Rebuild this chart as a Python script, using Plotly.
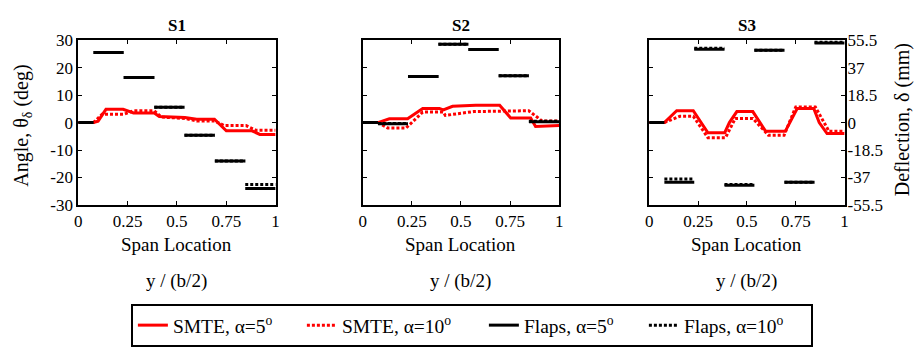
import plotly.graph_objects as go

# ---------------- data ----------------
span_ticks = [0, 0.25, 0.5, 0.75, 1]
span_tick_labels = ["0", "0.25", "0.5", "0.75", "1"]
angle_ticks = [-30, -20, -10, 0, 10, 20, 30]
angle_tick_labels = ["-30", "-20", "-10", "0", "10", "20", "30"]
defl_ticks = [-55.5, -37, -18.5, 0, 18.5, 37, 55.5]
defl_tick_labels = ["-55.5", "-37", "-18.5", "0", "18.5", "37", "55.5"]

# flap segment edges (span location)
flap_edges = [0, 0.077, 0.23, 0.385, 0.538, 0.692, 0.846, 1.0]

# flap angles per segment (deg)
s1_flaps_a5 = [0, 25.5, 16.4, 5.6, -4.6, -14.0, -24.0]
s1_flaps_a10 = [0, 25.5, 16.4, 5.6, -4.6, -14.0, -22.5]
s2_flaps_a5 = [0, -0.4, 16.8, 28.5, 26.6, 17.0, 0.3]
s2_flaps_a10 = [0, -0.3, 16.8, 28.5, 26.6, 17.0, 0.5]
s3_flaps_a5 = [0, -21.7, 26.7, -22.8, 26.3, -21.7, 28.9]
s3_flaps_a10 = [0, -20.5, 27.0, -22.5, 26.3, -21.7, 29.2]

# SMTE spanwise angle (deg)
s1_smte_a5_x = [0, 0.077, 0.10, 0.14, 0.227, 0.28, 0.385, 0.41, 0.54, 0.60, 0.69, 0.75, 0.88, 0.92, 1.0]
s1_smte_a5_y = [0, 0, 0.5, 4.8, 4.8, 3.5, 3.5, 2.2, 1.8, 1.2, 1.2, -3.0, -3.0, -4.3, -4.3]
s1_smte_a10_x = [0, 0.077, 0.12, 0.23, 0.28, 0.385, 0.42, 0.54, 0.60, 0.69, 0.74, 0.85, 0.90, 1.0]
s1_smte_a10_y = [0, 0, 3.0, 3.0, 4.3, 4.3, 2.0, 1.5, 0.6, 0.6, -1.1, -1.1, -2.8, -2.8]

s2_smte_a5_x = [0, 0.077, 0.135, 0.228, 0.305, 0.39, 0.41, 0.457, 0.575, 0.697, 0.753, 0.855, 0.88, 1.0]
s2_smte_a5_y = [0, 0, 1.4, 1.4, 5.1, 5.1, 4.6, 5.9, 6.3, 6.3, 1.7, 1.7, -1.4, -1.1]
s2_smte_a10_x = [0, 0.077, 0.127, 0.22, 0.305, 0.41, 0.42, 0.47, 0.565, 0.845, 0.913, 1.0]
s2_smte_a10_y = [0, 0, -2.0, -2.0, 3.8, 3.8, 2.6, 3.1, 4.0, 4.3, 0.6, 0.6]

s3_smte_a5_x = [0, 0.077, 0.14, 0.225, 0.30, 0.386, 0.41, 0.448, 0.53, 0.596, 0.696, 0.757, 0.842, 0.87, 0.91, 1.0]
s3_smte_a5_y = [0, 0, 4.3, 4.3, -3.7, -3.7, 0.0, 4.0, 4.0, -3.2, -3.2, 5.1, 5.1, 0.0, -4.0, -4.0]
s3_smte_a10_x = [0, 0.077, 0.157, 0.225, 0.30, 0.39, 0.44, 0.53, 0.61, 0.69, 0.75, 0.85, 0.92, 1.0]
s3_smte_a10_y = [0, 0, 2.3, 2.3, -5.5, -5.5, 1.5, 1.5, -4.6, -4.6, 5.7, 5.7, -3.2, -3.2]

panels = [
    ("S1", s1_smte_a5_x, s1_smte_a5_y, s1_smte_a10_x, s1_smte_a10_y, s1_flaps_a5, s1_flaps_a10),
    ("S2", s2_smte_a5_x, s2_smte_a5_y, s2_smte_a10_x, s2_smte_a10_y, s2_flaps_a5, s2_flaps_a10),
    ("S3", s3_smte_a5_x, s3_smte_a5_y, s3_smte_a10_x, s3_smte_a10_y, s3_flaps_a5, s3_flaps_a10),
]

legend_names = ["SMTE, α=5<sup>o</sup>", "SMTE, α=10<sup>o</sup>",
                "Flaps, α=5<sup>o</sup>", "Flaps, α=10<sup>o</sup>"]

# ---------------- figure ----------------
W, H = 919, 347
SERIF = "Liberation Serif"
RED = "#ff0000"

def seg_xy(edges, vals):
    xs, ys = [], []
    for i, v in enumerate(vals):
        xs += [edges[i], edges[i + 1], None]
        ys += [v, v, None]
    return xs, ys

fig = go.Figure()
dom_x = [(75 / W, 274 / W), (362 / W, 560 / W), (651 / W, 848 / W)]
dom_y = (1 - 208 / H, 1 - 33 / H)
legend_widths = [124, 137, 115, 122]

axis_common = dict(showline=True, linewidth=2, linecolor="black", mirror="ticks",
                   ticks="inside", ticklen=4, tickwidth=1, tickcolor="black",
                   showgrid=False, zeroline=False)

for p, (title, ax5, ay5, ax10, ay10, f5, f10) in enumerate(panels):
    xa = "x" if p == 0 else f"x{p + 1}"
    ya = "y" if p == 0 else f"y{p + 1}"
    show = p == 0
    fig.add_trace(go.Scatter(x=ax5, y=ay5, mode="lines", xaxis=xa, yaxis=ya,
                             line=dict(color=RED, width=3), name=legend_names[0],
                             legendgroup="a", showlegend=show, legendwidth=legend_widths[0]))
    fig.add_trace(go.Scatter(x=ax10, y=ay10, mode="lines", xaxis=xa, yaxis=ya,
                             line=dict(color=RED, width=3, dash="3px,2px"), name=legend_names[1],
                             legendgroup="b", showlegend=show, legendwidth=legend_widths[1]))
    fx, fy = seg_xy(flap_edges, f5)
    fig.add_trace(go.Scatter(x=fx, y=fy, mode="lines", xaxis=xa, yaxis=ya,
                             line=dict(color="black", width=3), name=legend_names[2],
                             legendgroup="c", showlegend=show, legendwidth=legend_widths[2]))
    fx, fy = seg_xy(flap_edges, f10)
    fig.add_trace(go.Scatter(x=fx, y=fy, mode="lines", xaxis=xa, yaxis=ya,
                             line=dict(color="black", width=3, dash="3px,2px"), name=legend_names[3],
                             legendgroup="d", showlegend=show, legendwidth=legend_widths[3]))

    xkey = "xaxis" if p == 0 else f"xaxis{p + 1}"
    ykey = "yaxis" if p == 0 else f"yaxis{p + 1}"
    fig.layout[xkey] = dict(domain=list(dom_x[p]), range=[0, 1], anchor=ya,
                            tickvals=span_ticks, ticktext=span_tick_labels,
                            tickfont=dict(family=SERIF, size=17, color="black"),
                            **axis_common)
    fig.layout[ykey] = dict(domain=list(dom_y), range=[-30, 30], anchor=xa,
                            tickvals=angle_ticks, ticktext=angle_tick_labels,
                            showticklabels=(p == 0),
                            tickfont=dict(family=SERIF, size=17, color="black"),
                            **axis_common)
    cx = (dom_x[p][0] + dom_x[p][1]) / 2
    fig.add_annotation(x=cx, y=1 - 17 / H, xref="paper", yref="paper", showarrow=False,
                       text=f"<b>{title}</b>", font=dict(family=SERIF, size=17, color="black"),
                       xanchor="center", yanchor="middle")
    fig.add_annotation(x=cx, y=1 - 250 / H, xref="paper", yref="paper", showarrow=False,
                       text="Span Location", font=dict(family=SERIF, size=19, color="black"),
                       xanchor="center", yanchor="middle")
    fig.add_annotation(x=cx, y=1 - 289 / H, xref="paper", yref="paper", showarrow=False,
                       text="y / (b/2)", font=dict(family=SERIF, size=19, color="black"),
                       xanchor="center", yanchor="middle")

# right-hand deflection axis on panel 3 (needs a trace to be drawn)
fig.add_trace(go.Scatter(x=[], y=[], xaxis="x3", yaxis="y4", mode="lines",
                         showlegend=False, hoverinfo="skip"))
fig.layout["yaxis4"] = dict(overlaying="y3", anchor="x3", side="right", range=[-55.5, 55.5],
                            tickvals=defl_ticks, ticktext=defl_tick_labels,
                            ticks="inside", ticklen=4, tickcolor="black", showline=False,
                            showgrid=False, zeroline=False, ticklabelstandoff=2,
                            tickfont=dict(family=SERIF, size=17, color="black"))

fig.add_annotation(x=19 / W, y=1 - 124 / H, xref="paper", yref="paper", showarrow=False,
                   text="Angle, θ<sub>δ</sub> (deg)", textangle=-90,
                   font=dict(family=SERIF, size=20, color="black"),
                   xanchor="center", yanchor="middle")
fig.add_annotation(x=906 / W, y=1 - 118 / H, xref="paper", yref="paper", showarrow=False,
                   text="Deflection, δ (mm)", textangle=-90,
                   font=dict(family=SERIF, size=20, color="black"),
                   xanchor="center", yanchor="middle")

fig.update_layout(
    width=W, height=H,
    margin=dict(l=0, r=0, t=0, b=0),
    paper_bgcolor="white", plot_bgcolor="white",
    showlegend=True,
    legend=dict(orientation="h", x=128 / W, y=1 - 313 / H, xanchor="left", yanchor="top",
                bordercolor="black", borderwidth=2, bgcolor="white",
                font=dict(family=SERIF, size=19.5, color="black"),
                traceorder="normal"),
)

fig.write_html("out.html", config={"displayModeBar": False},
               post_script="document.body.style.margin='0';document.body.style.overflow='hidden';")
